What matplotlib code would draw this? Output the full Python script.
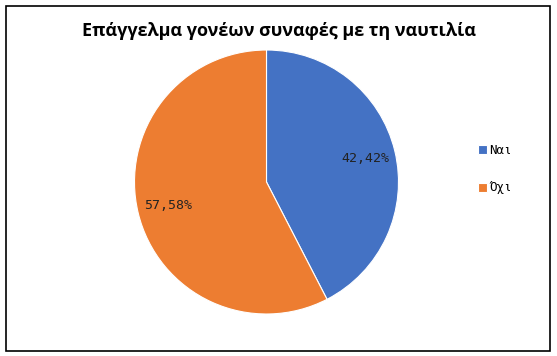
import matplotlib.pyplot as plt
from matplotlib.patches import Rectangle

title = "Επάγγελμα γονέων συναφές με τη ναυτιλία"
labels = ["Ναι", "Όχι"]
values = [42.42, 57.58]
colors = ["#4472C4", "#ED7D31"]

W, H = 557, 356
fig = plt.figure(figsize=(W / 100, H / 100), dpi=100)

# outer frame
fig.patches.append(Rectangle((5.5 / W, 1 - 350.5 / H), 544.5 / W, 344.5 / H,
                             transform=fig.transFigure, fill=False,
                             edgecolor="black", linewidth=1.2))

# pie axes: center ~ (266, 182), radius ~ 132 px
cx, cy, r = 266.5, 182, 132
ax = fig.add_axes([(cx - r) / W, 1 - (cy + r) / H, 2 * r / W, 2 * r / H])
wedges, texts, autotexts = ax.pie(
    values, colors=colors, startangle=90, counterclock=False,
    autopct=lambda p: f"{p:.2f}%".replace(".", ","), pctdistance=0.77,
    wedgeprops=dict(edgecolor="white", linewidth=0.8),
    textprops=dict(family="DejaVu Sans Mono", fontsize=9.5, color="#222222"))
ax.set_xlim(-1, 1)
ax.set_ylim(-1, 1)

fig.text(0.5, 1 - 31 / H, title, ha="center", va="center",
         fontsize=13, fontweight="bold", family="Open Sans")

leg = fig.legend(wedges, labels, loc="center left",
                 bbox_to_anchor=(467 / W, 1 - 169 / H), frameon=False,
                 prop=dict(family="DejaVu Sans Mono", size=9),
                 handlelength=0.7, handleheight=0.7, handletextpad=0.2,
                 labelspacing=2.0)

fig.savefig("out.png", dpi=100)
